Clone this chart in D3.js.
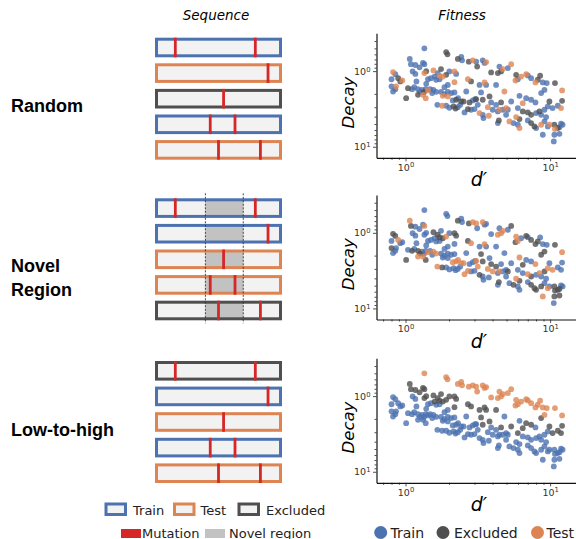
<!DOCTYPE html>
<html>
<head>
<meta charset="utf-8">
<script src="https://cdn.jsdelivr.net/npm/d3@7"></script>
<style>
  body { margin: 0; background: #fff; }
  svg { display: block; }
</style>
</head>
<body>
<div id="chart"></div>
<script>
// ---- data ----
var rowNames = [["Random"], ["Novel", "Region"], ["Low-to-high"]];
// mutation positions along each sequence (fraction of length)
var mutations = [[0.16, 0.79], [0.89], [0.54], [0.435, 0.63], [0.50, 0.83]];
var seqSplits = [
  ["Train", "Test", "Excluded", "Train", "Test"],
  ["Train", "Train", "Test", "Test", "Excluded"],
  ["Excluded", "Train", "Test", "Train", "Test"]
];
var novelRegion = [0.397, 0.695];

var dPrime = [
  1.35,1.91,1.95,1.07,2.30,2.43,2.46,2.74,2.92,1.09,
  1.17,1.25,1.32,1.35,1.76,0.82,0.85,0.80,0.89,0.92,
  0.95,1.12,1.17,1.35,1.39,1.56,1.67,1.72,1.81,1.91,
  2.01,2.18,2.24,1.43,1.50,1.59,1.63,1.72,2.70,2.84,
  2.18,1.96,1.86,1.19,1.39,0.80,0.86,0.82,0.85,1.04,
  1.11,1.15,1.22,1.26,1.30,1.34,1.38,1.43,1.48,1.53,
  1.22,1.32,1.38,1.01,1.56,1.63,1.76,1.86,1.96,2.07,
  2.18,1.81,1.96,2.63,2.12,2.24,2.31,2.43,2.52,2.77,
  2.92,3.03,1.66,1.79,1.91,2.01,2.15,2.22,2.30,2.39,
  2.56,2.70,2.84,3.00,3.08,3.42,3.52,3.61,3.13,4.46,
  4.71,5.10,5.38,3.91,4.35,4.58,5.82,6.30,6.83,7.01,
  7.39,8.22,8.53,7.92,8.90,9.48,10.8,5.76,5.98,3.25,
  3.52,3.61,4.23,3.33,4.83,8.67,9.14,12.1,6.14,5.38,
  6.83,7.39,7.92,9.89,11.3,12.1,6.47,3.08,3.16,3.42,
  3.81,3.91,4.58,4.23,3.71,4.01,4.35,4.46,4.71,4.96,
  5.10,5.98,6.47,7.01,7.39,8.44,8.67,9.14,9.64,10.4,
  11.9,8.00,3.25,3.42,3.77,3.46,4.42,4.35,4.96,5.23,
  5.58,5.82,6.14,5.98,6.14,7.01,7.39,7.79,8.00,8.67,
  9.14,9.38,9.64,9.89,10.7,10.8,11.3,11.6,11.9,12.2,
  8.90,10.7,11.6,10.6
];
var decay = [
  0.50,0.56,0.60,0.69,0.69,0.65,0.72,0.75,0.72,0.81,
  0.83,0.89,0.78,0.81,0.94,1.03,1.10,1.28,1.24,1.37,
  1.33,1.01,1.09,1.06,1.00,0.98,1.06,1.15,1.18,1.12,
  1.01,1.01,1.09,1.28,1.24,1.18,1.30,1.28,1.28,1.37,
  1.40,1.52,1.63,1.37,1.47,1.59,1.59,1.86,1.73,1.68,
  1.73,1.63,1.73,1.88,1.77,1.90,1.73,1.80,1.73,1.95,
  2.06,2.06,2.28,2.28,1.77,1.88,1.88,2.01,1.88,1.95,
  1.91,2.12,2.16,1.86,2.44,2.39,2.28,2.52,2.52,2.59,
  2.44,2.35,2.79,2.87,2.87,3.05,2.93,3.12,3.00,2.79,
  3.52,3.18,3.24,3.18,0.75,0.72,0.78,0.76,0.87,0.87,
  0.94,0.91,0.81,1.04,1.06,1.01,1.12,1.18,1.10,1.14,
  1.24,1.30,1.15,1.41,1.41,1.44,1.44,1.33,1.28,1.52,
  1.41,1.52,1.52,1.91,1.86,1.95,1.77,1.80,2.12,2.52,
  2.28,2.39,2.59,2.52,2.87,2.47,2.65,2.35,2.79,2.39,
  2.16,2.59,2.59,2.79,3.00,3.24,3.41,3.24,3.24,3.08,
  3.24,3.08,3.41,3.52,3.78,3.41,3.78,3.24,2.93,3.08,
  3.08,3.59,3.59,3.78,3.89,4.18,4.48,4.87,3.78,4.63,
  4.87,4.05,4.31,5.12,5.67,4.48,4.87,5.39,5.67,5.12,
  4.63,4.05,5.39,5.12,5.12,5.81,5.67,5.51,4.96,5.12,
  6.94,6.94,6.74,8.5
];
// split of each point per scheme: T = Train, X = Excluded, S = Test
var splitRandom = ["TXXTXTTXST","TTTTXSTTXX","STTSXSTSSX","TSTTTTTTSX","STTTTTSTTX",
  "TTTTTXTSTT","XSSXTTTTTT","TSSTTXTXXX","TTTSTTXXTT","TXTTTTTSXT","STSXXXXSST",
  "TXXSTTXSTT","STTTSTTSTT","TTTXTXSXTX","XTXTSTTSTS","TTXXXXTTTT","STSTSTXTTS",
  "TSXTSTXXTS","TTTSXSXTTT","TTTT"].join("");
var splitNovel = ["TTTSXTTXSX","TTTSTXXTST","TTTTTXXXXS","TXXTTTTTXS","TTTTTXTTTT",
  "XTXXTTTSTT","SSXXSSTTTT","TTTTSSSSST","TTSXTTTTTT","SSTTSSTTTT","STXTSSSTXT",
  "XXTXTTXXST","STTXTXXSST","TTSTTTXSSX","TXTXSSTSTT","XTTSXSTXSS","TTXTTTXTTT",
  "XSXTTTXXXX","TTSTXXXXTT","SXXT"].join("");
var splitLowHigh = ["SSSXSSSSSX","XXXXXTTTTT","TTTXXXXXXX","XXXTTXTTXX","XTTTTTTTTT",
  "TTTTTTTTTT","TTTTTTTTTT","TTTTTTTTTT","TTTTTTTTTT","TTTTSSSSSS","SSSSSSSSSS",
  "SSSSSSSSSX","XXXXTXSSTX","XXTXXXXTTX","XTXTTTTTTT","TXTTTTTTTX","XTTTTTTTTT",
  "TTTTTTTTTT","TTTTTTTTTT","TTTT"].join("");
var splits = [splitRandom, splitNovel, splitLowHigh];

var majorTicks = [1, 10];
var xMinorTicks = [0.7, 0.8, 0.9, 2, 3, 4, 5, 6, 7, 8, 9];
var yMinorTicks = [0.4, 0.5, 0.6, 0.7, 0.8, 0.9, 2, 3, 4, 5, 6, 7, 8, 9];

// ---- styles ----
var colors = { Train: "#4C72B0", Test: "#DD8452", Excluded: "#4f4f4f" };
var codeName = { T: "Train", X: "Excluded", S: "Test" };
var drawOrder = ["Train", "Excluded", "Test"];
var mutColor = "#D62728";

var svgWidth = 576;
var svgHeight = 539;

var svg = d3.select("#chart")
  .append("svg")
  .attr("width", svgWidth)
  .attr("height", svgHeight)
  .style("font-family", "DejaVu Sans, sans-serif");

// column titles
svg.append("text").attr("x", 216).attr("y", 20).attr("text-anchor", "middle")
  .attr("font-size", 13.5).attr("font-style", "italic").text("Sequence");
svg.append("text").attr("x", 462).attr("y", 20).attr("text-anchor", "middle")
  .attr("font-size", 13.5).attr("font-style", "italic").text("Fitness");

// ---- sequence diagrams ----
var rowTop = [37.7, 198.3, 361];
var labelY = [[111.5], [272, 296], [436]];
var seqX = d3.scaleLinear().domain([0, 1]).range([155, 282]);
var seqY = d3.scaleBand().domain(d3.range(5)).range([0, 122]).paddingInner(0.234);
var stroke = 3;

rowTop.forEach(function(top, r) {
  var g = svg.append("g").attr("transform", `translate(0, ${top})`);

  // row label
  rowNames[r].forEach(function(line, k) {
    svg.append("text")
      .attr("x", 11)
      .attr("y", labelY[r][k])
      .attr("font-family", "Liberation Sans, Arial, sans-serif")
      .attr("font-weight", "bold")
      .attr("font-size", 18)
      .text(line);
  });

  var bars = g.selectAll("g.seq")
    .data(seqSplits[r])
    .enter()
    .append("g")
    .attr("class", "seq")
    .attr("transform", (d, i) => `translate(0, ${seqY(i)})`);

  bars.append("rect")
    .attr("x", seqX(0) + stroke / 2)
    .attr("y", stroke / 2)
    .attr("width", seqX(1) - seqX(0) - stroke)
    .attr("height", seqY.bandwidth() - stroke)
    .attr("fill", "#f2f2f2");

  if (r === 1) {
    bars.append("rect")
      .attr("x", seqX(novelRegion[0]))
      .attr("y", stroke / 2)
      .attr("width", seqX(novelRegion[1]) - seqX(novelRegion[0]))
      .attr("height", seqY.bandwidth() - stroke)
      .attr("fill", "#c2c2c2");
  }

  bars.append("rect")
    .attr("x", seqX(0) + stroke / 2)
    .attr("y", stroke / 2)
    .attr("width", seqX(1) - seqX(0) - stroke)
    .attr("height", seqY.bandwidth() - stroke)
    .attr("fill", "none")
    .attr("stroke", d => colors[d])
    .attr("stroke-width", stroke);

  bars.each(function(d, i) {
    d3.select(this).selectAll("rect.mut")
      .data(mutations[i])
      .enter()
      .append("rect")
      .attr("class", "mut")
      .attr("x", p => seqX(p) - 1.4)
      .attr("y", 0)
      .attr("width", 2.8)
      .attr("height", seqY.bandwidth())
      .attr("fill", mutColor);
  });

  if (r === 1) {
    g.selectAll("line.novel")
      .data(novelRegion)
      .enter()
      .append("line")
      .attr("x1", d => seqX(d)).attr("x2", d => seqX(d))
      .attr("y1", -5).attr("y2", 125)
      .attr("stroke", "#333")
      .attr("stroke-width", 0.9)
      .attr("stroke-dasharray", "2,1.5");
  }
});

// ---- scatter plots ----
var plotTop = [33.3, 195, 358.3];
var plotH = 124.5;
var xScale = d3.scaleLog().domain([0.63, 15.1]).range([376.5, 576]);
var points = dPrime.map((d, i) => ({ d: d, decay: decay[i] }));

function supLabel(sel) {
  sel.selectAll(".tick text").each(function(d) {
    var t = d3.select(this).text("10");
    t.append("tspan").attr("dy", "-0.45em").attr("font-size", "0.72em")
      .text(Math.round(Math.log10(d)));
  });
}

plotTop.forEach(function(top, r) {
  var yScale = d3.scaleLog().domain([0.316, 14]).range([top, top + plotH]);
  var g = svg.append("g");

  drawOrder.forEach(function(name) {
    g.selectAll(null)
      .data(points.filter((p, i) => codeName[splits[r][i]] === name))
      .enter()
      .append("circle")
      .attr("cx", p => xScale(p.d))
      .attr("cy", p => yScale(p.decay))
      .attr("r", 2.9)
      .attr("fill", colors[name])
      .attr("opacity", 0.8);
  });

  // minor ticks
  var xMinor = g.append("g")
    .attr("transform", `translate(0, ${top + plotH})`)
    .call(d3.axisBottom(xScale).tickValues(xMinorTicks).tickSize(2).tickFormat(""));
  var yMinor = g.append("g")
    .attr("transform", `translate(${xScale.range()[0]}, 0)`)
    .call(d3.axisLeft(yScale).tickValues(yMinorTicks).tickSize(2).tickFormat(""));

  // major ticks + spines
  var xAxis = g.append("g")
    .attr("transform", `translate(0, ${top + plotH})`)
    .call(d3.axisBottom(xScale).tickValues(majorTicks).tickSize(3.5).tickPadding(2.5).tickSizeOuter(0));
  var yAxis = g.append("g")
    .attr("transform", `translate(${xScale.range()[0]}, 0)`)
    .call(d3.axisLeft(yScale).tickValues(majorTicks).tickSize(3.5).tickPadding(2.5).tickSizeOuter(0));

  [xMinor, yMinor].forEach(a => a.select(".domain").remove());
  [xMinor, yMinor, xAxis, yAxis].forEach(function(a) {
    a.selectAll("line").attr("stroke", "#222").attr("stroke-width", 0.8);
    a.select(".domain").attr("stroke", "#111").attr("stroke-width", 1.2);
    a.selectAll("text").attr("font-family", "DejaVu Sans, sans-serif")
      .attr("font-size", 9.5).attr("fill", "#333");
  });
  supLabel(xAxis);
  supLabel(yAxis);

  // axis labels
  svg.append("text")
    .attr("transform", `translate(354, ${top + plotH / 2 + 7}) rotate(-90)`)
    .attr("text-anchor", "middle")
    .attr("font-size", 16.5)
    .attr("font-style", "italic")
    .text("Decay");
  svg.append("text")
    .attr("x", 479)
    .attr("y", top + 153)
    .attr("text-anchor", "middle")
    .attr("font-size", 19)
    .attr("font-style", "italic")
    .text("d\u2032");
});

// ---- legends ----
var seqLegend = [
  { name: "Train", x: 104.5, tx: 133 },
  { name: "Test", x: 173, tx: 200.5 },
  { name: "Excluded", x: 237.5, tx: 266 }
];
seqLegend.forEach(function(d) {
  svg.append("rect")
    .attr("x", d.x + 1.5).attr("y", 504)
    .attr("width", 19.5).attr("height", 10.5)
    .attr("fill", "#f2f2f2")
    .attr("stroke", colors[d.name]).attr("stroke-width", 3);
  svg.append("text").attr("x", d.tx).attr("y", 514.5)
    .attr("font-size", 13).attr("fill", "#222").text(d.name);
});
var markLegend = [
  { name: "Mutation", fill: mutColor, x: 121, tx: 142 },
  { name: "Novel region", fill: "#c2c2c2", x: 205, tx: 229 }
];
markLegend.forEach(function(d) {
  svg.append("rect")
    .attr("x", d.x).attr("y", 529)
    .attr("width", 20).attr("height", 9)
    .attr("fill", d.fill);
  svg.append("text").attr("x", d.tx).attr("y", 537.5)
    .attr("font-size", 13).attr("fill", "#222").text(d.name);
});

var fitLegend = [
  { name: "Train", cx: 380.7, tx: 390.5 },
  { name: "Excluded", cx: 443, tx: 454 },
  { name: "Test", cx: 537.5, tx: 546.5 }
];
fitLegend.forEach(function(d) {
  svg.append("circle").attr("cx", d.cx).attr("cy", 532.5).attr("r", 6.5)
    .attr("fill", colors[d.name]);
  svg.append("text").attr("x", d.tx).attr("y", 537.5)
    .attr("font-size", 14).attr("fill", "#222").text(d.name);
});
</script>
</body>
</html>
